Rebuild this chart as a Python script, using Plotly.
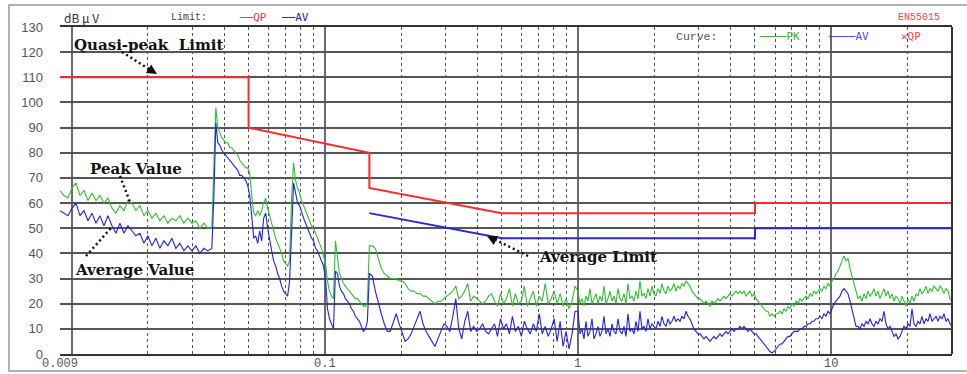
import numpy as np
import plotly.graph_objects as go

# ---- scan segments (MHz); each segment's readings are spread log-evenly over it
seg_edges = [0.009, 0.0358, 0.15, 1.0, 30.0]

# Peak detector readings, dBuV
pk_seg1 = [65, 63, 62, 66, 68, 63, 65, 61, 64, 61, 63, 60, 62, 58, 56, 59, 57, 61, 60, 57,
           59, 55, 57, 54, 56, 53, 55, 52, 54, 53, 55, 52, 54, 52, 53, 50, 52, 50]
pk_seg2 = [50, 75, 98, 90, 88, 86, 85, 84, 84, 82, 82, 81, 80, 79, 77, 76, 75, 74, 74, 72,
           63, 56, 55, 57, 55, 57, 60, 62, 58, 55, 52, 48, 46, 44, 42, 40, 37, 36, 35, 37,
           62, 76, 69, 66, 64, 61, 59, 57, 55, 53, 51, 50, 48, 46, 44, 42, 39, 36, 29, 25,
           23, 22, 45, 38, 32, 30, 28, 27, 26, 25, 24, 23, 22, 22, 21, 20, 19, 19, 20]
pk_seg3 = [43, 43, 42, 38, 34, 32, 31, 30, 30, 30, 29, 29, 28, 26, 25, 25, 24, 24, 23, 23,
           22, 21, 20, 21, 21, 22, 23, 24, 25, 27, 22, 23, 25, 28, 21, 23, 22, 21, 20, 21,
           23, 24, 21, 19, 24, 20, 22, 26, 19, 24, 20, 21, 27, 19, 22, 25, 19, 23, 21, 28,
           20, 22, 25, 20, 24, 19, 22, 18, 21, 27]
pk_seg4 = [25, 20, 22, 19, 23, 21, 26, 20, 22, 24,
           20, 23, 21, 27, 20, 22, 25, 21, 23, 20,
           26, 22, 21, 24, 20, 28, 22, 23, 21, 25,
           22, 29, 23, 24, 22, 26, 23, 27, 24, 23,
           26, 24, 28, 25, 24, 27, 25, 26, 28, 25,
           27, 26, 28, 27, 29, 28, 27, 25, 24, 23,
           22, 22, 21, 20, 21, 20, 19, 21, 20, 21,
           22, 21, 22, 23, 22, 23, 24, 23, 24, 25,
           24, 25, 24, 25, 23, 24, 25, 23, 24, 22,
           21, 20, 19, 18, 17, 17, 15, 16, 15, 16,
           16, 17, 16, 18, 17, 19, 18, 20, 19, 21,
           20, 22, 21, 22, 23, 22, 24, 23, 25, 24,
           25, 26, 25, 27, 26, 28, 27, 29, 30, 32,
           33, 35, 37, 39, 37, 38, 34, 31, 28, 25,
           22, 23, 21, 24, 22, 25, 23, 24, 26, 23,
           25, 22, 24, 26, 23, 25, 22, 24, 21, 23,
           22, 20, 23, 21, 19, 22, 20, 23, 21, 24,
           23, 26, 24, 25, 27, 24, 26, 25, 27, 26,
           25, 27, 26, 24, 26, 25, 22, 21]

# Average detector readings, dBuV
av_seg1 = [57, 56, 55, 58, 60, 55, 57, 53, 56, 52, 55, 51, 55, 51, 48, 52, 48, 51, 49, 47,
           48, 44, 47, 43, 46, 42, 45, 43, 46, 42, 44, 41, 43, 41, 43, 40, 42, 41]
av_seg2 = [42, 62, 92, 84, 83, 81, 80, 79, 78, 77, 76, 75, 74, 73, 71, 71, 70, 69, 67, 63,
           55, 46, 47, 44, 49, 45, 54, 56, 50, 45, 41, 37, 35, 32, 30, 27, 25, 24, 23, 29,
           50, 68, 64, 60, 59, 56, 54, 52, 50, 48, 46, 45, 42, 41, 39, 37, 35, 30, 18, 14,
           12, 10, 33, 32, 27, 25, 24, 22, 21, 20, 18, 17, 15, 14, 13, 11, 9, 10, 13]
av_seg3 = [32, 31, 25, 20, 16, 12, 9, 9, 13, 16, 12, 8, 5, 6, 8, 11, 14, 17, 12, 9,
           7, 5, 3, 6, 9, 12, 11, 9, 15, 22, 10, 6, 13, 17, 9, 11, 9, 10, 12, 9,
           8, 10, 12, 7, 14, 10, 12, 8, 15, 9, 11, 7, 13, 10, 8, 12, 9, 16, 8, 11,
           7, 10, 14, 5, 13, 3, 9, 2, 8, 17]
av_seg4 = [17, 8, 10, 6, 13, 7, 9, 14, 6, 8,
           11, 7, 9, 15, 8, 10, 7, 12, 9, 8,
           14, 9, 8, 11, 7, 16, 9, 10, 8, 13,
           9, 17, 10, 11, 9, 14, 10, 12, 11, 10,
           13, 11, 15, 12, 11, 14, 12, 13, 15, 13,
           14, 13, 15, 14, 17, 15, 14, 12, 10, 9,
           8, 8, 7, 6, 7, 6, 5, 6, 7, 6,
           7, 8, 7, 8, 9, 8, 9, 10, 9, 10,
           10, 11, 10, 11, 10, 9, 10, 9, 8, 8,
           7, 6, 5, 4, 3, 2, 1, 0.5, 1, 2,
           3, 4, 4, 5, 6, 7, 7, 8, 9, 9,
           9, 10, 10, 11, 11, 12, 12, 13, 13, 14,
           14, 15, 14, 16, 15, 17, 16, 18, 20, 21,
           22, 23, 25, 26, 25, 24, 21, 18, 14, 11,
           11, 10, 12, 11, 13, 12, 14, 12, 11, 13,
           12, 14, 13, 17, 12, 10, 11, 9, 7, 8,
           6, 7, 9, 11, 10, 12, 11, 18, 12, 11,
           13, 12, 15, 12, 14, 13, 16, 13, 14, 15,
           13, 15, 14, 16, 13, 14, 12, 11]

# EN55015 limit lines
qp_lim_freq = [0.009, 0.05, 0.05, 0.15, 0.15, 0.5, 5, 5, 30]
qp_lim_dbuv = [110, 110, 90, 80, 66, 56, 56, 60, 60]
av_lim_freq = [0.15, 0.5, 5, 5, 30]
av_lim_dbuv = [56, 46, 46, 50, 50]

x_tick_labels = ["0.009", "0.1", "1", "10", "30MHz"]
x_tick_freqs = [0.009, 0.1, 1, 10, 30]


def sweep(segments):
    freqs, vals = [], []
    last = len(segments) - 1
    for i, seg in enumerate(segments):
        f = np.geomspace(seg_edges[i], seg_edges[i + 1], len(seg), endpoint=(i == last))
        freqs.extend(f.tolist())
        vals.extend(seg)
    return freqs, vals


pk_freq, pk_dbuv = sweep([pk_seg1, pk_seg2, pk_seg3, pk_seg4])
av_freq, av_dbuv = sweep([av_seg1, av_seg2, av_seg3, av_seg4])

W, H = 967, 374
L, R, T, B = 60, 15, 27, 20
PW, PH = W - L - R, H - T - B


def px(x):
    return (x - L) / PW


def py(y):
    return (H - B - y) / PH


fig = go.Figure()
fig.add_trace(go.Scatter(x=qp_lim_freq, y=qp_lim_dbuv, mode="lines",
                         line=dict(color="#ff2a2a", width=2)))
fig.add_trace(go.Scatter(x=av_lim_freq, y=av_lim_dbuv, mode="lines",
                         line=dict(color="#2a2ad0", width=2)))
fig.add_trace(go.Scatter(x=pk_freq, y=pk_dbuv, mode="lines",
                         line=dict(color="#2fc02f", width=1.1)))
fig.add_trace(go.Scatter(x=av_freq, y=av_dbuv, mode="lines",
                         line=dict(color="#2020f0", width=1.1)))

minor_vals = [0.009] + [k * 0.01 for k in range(2, 10)] + [k * 0.1 for k in range(2, 10)] \
    + [float(k) for k in range(2, 10)] + [20.0]

fig.update_xaxes(type="log", range=[np.log10(0.009), np.log10(30)],
                 tickmode="array", tickvals=[0.01, 0.1, 1, 10], showticklabels=False,
                 ticks="", showgrid=True, gridcolor="#6a6a6a", gridwidth=1.5,
                 minor=dict(tickmode="array", tickvals=minor_vals, showgrid=True,
                            gridcolor="#555", griddash="dot", gridwidth=1, ticks=""),
                 showline=True, linecolor="#333", linewidth=2, mirror=True, zeroline=False)
fig.update_yaxes(range=[0, 130], tick0=0, dtick=10, showgrid=True, gridcolor="#555",
                 gridwidth=1.5, zeroline=False, showline=False, ticks="",
                 ticklabelstandoff=16,
                 tickfont=dict(family="Liberation Sans", size=13, color="#555"))

shapes = [
    # right border of the plotting frame
    dict(type="line", xref="paper", yref="paper", x0=1, x1=1, y0=0, y1=1,
         line=dict(color="#333", width=2)),
    # outer page border
    dict(type="rect", xref="paper", yref="paper", x0=px(9), x1=px(975), y0=py(371), y1=py(5),
         line=dict(color="#9a9a9a", width=1.5)),
]
# dotted leader lines of the callouts
for (x0, y0, x1, y1) in [(122, 52, 152, 71), (120, 176, 130, 202),
                         (86, 256, 111, 228), (528, 256, 492, 238)]:
    shapes.append(dict(type="line", xref="paper", yref="paper",
                       x0=px(x0), y0=py(y0), x1=px(x1), y1=py(y1),
                       line=dict(color="#111", width=2.5, dash="2px,3px")))
fig.update_layout(shapes=shapes)

ann = []
mono = "Liberation Mono"
for f, lab in zip(x_tick_freqs, x_tick_labels):
    ann.append(dict(x=np.log10(f), xref="x", y=py(364), yref="paper", text=lab,
                    showarrow=False, xanchor="right" if lab.endswith("MHz") else "center",
                    yanchor="middle", font=dict(family=mono, size=12, color="#555")))
# "30MHz" sits flush with the right frame edge
ann[-1]["x"] = np.log10(30) + (959 - 952) / PW * (np.log10(30) - np.log10(0.009))


def label(x, y, text, color, size=11, family=mono, anchor="left"):
    ann.append(dict(x=px(x), y=py(y), xref="paper", yref="paper", text=text,
                    showarrow=False, xanchor=anchor, yanchor="middle",
                    font=dict(family=family, size=size, color=color)))


label(62, 17, "dB μ V", "#333", size=12, family="Noto Sans CJK SC")
label(169, 17, "Limit:", "#444", size=10)
label(237, 17, "──QP", "#ff3030", size=11, family="DejaVu Sans Mono")
label(279, 17, "──AV", "#2020c0", size=11, family="DejaVu Sans Mono")
label(896, 17, "EN55015", "#ff4040", size=10)
label(674, 37, "Curve:", "#555", size=11.5)
label(757, 37, "────PK", "#40b040", size=11, family="DejaVu Sans Mono")
label(826, 37, "────AV", "#4848ff", size=11, family="DejaVu Sans Mono")
label(899, 37, "✕QP", "#ff4040", size=11, family="DejaVu Sans Mono")

serif = "DejaVu Serif"
label(72, 45, "<b>Quasi-peak  Limit</b>", "#111", size=15, family=serif)
label(88, 169, "<b>Peak Value</b>", "#111", size=15, family=serif)
label(73, 270, "<b>Average Value</b>", "#111", size=15, family=serif)
label(537, 257, "<b>Average Limit</b>", "#111", size=15, family=serif)

# arrow heads at the ends of the leader lines
for (hx, hy, ax, ay) in [(157, 74, -8, -5), (487, 236, 8, 4)]:
    ann.append(dict(x=px(hx), y=py(hy), xref="paper", yref="paper", text="",
                    showarrow=True, arrowhead=2, arrowsize=1, arrowwidth=2,
                    arrowcolor="#111", ax=ax, ay=ay))

fig.update_layout(annotations=ann, width=W, height=H,
                  margin=dict(l=L, r=R, t=T, b=B),
                  plot_bgcolor="white", paper_bgcolor="white", showlegend=False)

fig.write_html("out.html")
